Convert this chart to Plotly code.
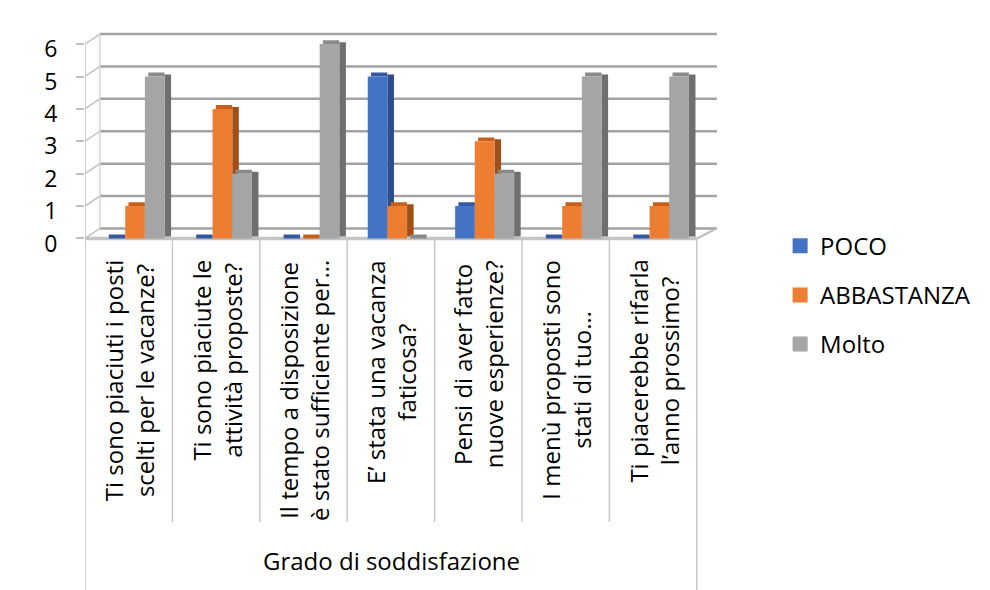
import plotly.graph_objects as go

# domande (etichette categorie, \n = a capo)
categories = [
    "Ti sono piaciuti i posti\nscelti per le vacanze?",
    "Ti sono piaciute le\nattività proposte?",
    "Il tempo a disposizione\nè stato sufficiente per…",
    "E’ stata una vacanza\nfaticosa?",
    "Pensi di aver fatto\nnuove esperienze?",
    "I menù proposti sono\nstati di tuo…",
    "Ti piacerebbe rifarla\nl’anno prossimo?",
]
poco = [0, 0, 0, 5, 1, 0, 0]
abbastanza = [1, 4, 0, 1, 3, 1, 1]
molto = [5, 2, 6, 0, 2, 5, 5]
y_ticks = [0, 1, 2, 3, 4, 5, 6]
group_title = "Grado di soddisfazione"

series = [
    ("POCO", poco, "#4472c4", "#34589f", "#2c4c8a"),
    ("ABBASTANZA", abbastanza, "#ed7d31", "#c55f1c", "#a14f19"),
    ("Molto", molto, "#a5a5a5", "#8a8a8a", "#6f6f6f"),
]
offsets = [-0.265, -0.04, 0.185]
bw = 0.225
sd = 0.075   # profondita laterale
sdy = 0.12   # profondita in alto

x = list(range(len(categories)))
font = "Open Sans"

fig = go.Figure()
for (name, vals, c_front, c_top, c_side), off in zip(series, offsets):
    fig.add_trace(go.Bar(x=x, y=vals, base=[sdy * 0.5] * len(vals),
                         offset=off + bw, width=sd, marker_color=c_side,
                         marker_line_width=0, showlegend=False,
                         legendgroup=name, hoverinfo="skip"))
    fig.add_trace(go.Bar(x=x, y=[sdy] * len(vals), base=vals,
                         offset=off + sd * 0.5, width=bw - sd * 0.5,
                         marker_color=c_top, marker_line_width=0,
                         showlegend=False, legendgroup=name, hoverinfo="skip"))
    fig.add_trace(go.Bar(x=x, y=vals, offset=off, width=bw, name=name,
                         marker_color=c_front, marker_line_width=0,
                         showlegend=False, legendgroup=name))
    # voce di legenda (quadrato piu grande)
    fig.add_trace(go.Scatter(x=[None], y=[None], mode="markers", name=name,
                             marker=dict(symbol="square", size=15, color=c_front),
                             legendgroup=name))

# pareti 3D
yr = [-0.1, 6.6]
ydom = [0.5903, 0.9582]
dxl, dxr, dy = 0.17, 0.23, 0.31
n = len(categories)
grid = "#a3a3a3"


def ypaper(v):
    return ydom[0] + (v - yr[0]) / (yr[1] - yr[0]) * (ydom[1] - ydom[0])


shapes = []
shapes.append(dict(type="path", xref="x", yref="y", layer="below",
                   path=f"M -0.5,0 L {n-0.5},0 L {n-0.5+dxr},{dy} L {-0.5+dxl},{dy} Z",
                   fillcolor="white", line_width=0))
for v in y_ticks:
    shapes.append(dict(type="line", xref="x", yref="y", layer="below",
                       x0=-0.5 + dxl, x1=n - 0.5 + dxr, y0=v + dy, y1=v + dy,
                       line=dict(color=grid, width=2.5)))
    shapes.append(dict(type="line", xref="x", yref="y", layer="below",
                       x0=-0.5, x1=-0.5 + dxl, y0=v, y1=v + dy,
                       line=dict(color="#c0c0c0", width=1.5)))
shapes.append(dict(type="line", xref="x", yref="y", layer="below",
                   x0=-0.5 + dxl, x1=-0.5 + dxl, y0=dy, y1=y_ticks[-1] + dy,
                   line=dict(color="#d6d6d6", width=1.5)))
shapes.append(dict(type="line", xref="x", yref="y", layer="below",
                   x0=-0.5, x1=-0.5, y0=0, y1=y_ticks[-1],
                   line=dict(color="#c0c0c0", width=1.5)))
shapes.append(dict(type="line", xref="x", yref="y", layer="below",
                   x0=n - 0.5, x1=n - 0.5 + dxr, y0=0, y1=dy,
                   line=dict(color="#bdbdbd", width=2)))
shapes.append(dict(type="line", xref="x", yref="y", layer="below",
                   x0=-0.5, x1=n - 0.5, y0=0, y1=0,
                   line=dict(color="#c4c4c4", width=3.5)))
# separatori sotto l'asse
for k in range(n + 1):
    shapes.append(dict(type="line", xref="x", yref="paper",
                       x0=k - 0.5, x1=k - 0.5, y0=ypaper(0),
                       y1=0 if k in (0, n) else 0.1153,
                       line=dict(color="#c8c8c8", width=1.5)))

annotations = []
for k, lab in enumerate(categories):
    annotations.append(dict(x=k, y=0.5627, xref="x", yref="paper",
                            text=lab.replace("\n", "<br>"), textangle=-90,
                            showarrow=False, yanchor="top", xanchor="center",
                            align="center", font=dict(family=font, size=24, color="black")))
annotations.append(dict(x=(85 + 697) / 2 / 990, y=0.0508, xref="paper", yref="paper",
                        text=group_title, showarrow=False, yanchor="middle",
                        xanchor="center",
                        font=dict(family=font, size=24, color="black")))

fig.update_layout(
    width=990, height=590,
    template="none",
    barmode="overlay",
    margin=dict(l=0, r=0, t=0, b=0),
    paper_bgcolor="white", plot_bgcolor="rgba(0,0,0,0)",
    xaxis=dict(domain=[0.08586, 0.73032], range=[-0.5, 6.8], showticklabels=False,
               showgrid=False, zeroline=False, showline=False, ticks="",
               automargin=False),
    yaxis=dict(domain=ydom, range=yr, tickvals=y_ticks, showgrid=False,
               zeroline=False, showline=False, ticks="outside", ticklen=8,
               tickcolor="#bfbfbf", tickwidth=1.5, ticklabelstandoff=14,
               ticklabelshift=5,
               tickfont=dict(family=font, size=23, color="black"),
               automargin=False),
    legend=dict(x=0.788, y=0.621, xanchor="left", yanchor="top",
                tracegroupgap=15, font=dict(family=font, size=24, color="black"),
                bgcolor="rgba(0,0,0,0)"),
    shapes=shapes,
    annotations=annotations,
    showlegend=True,
)

fig.write_html("out.html", config={"displayModeBar": False},
               post_script="document.body.style.margin='0';")
